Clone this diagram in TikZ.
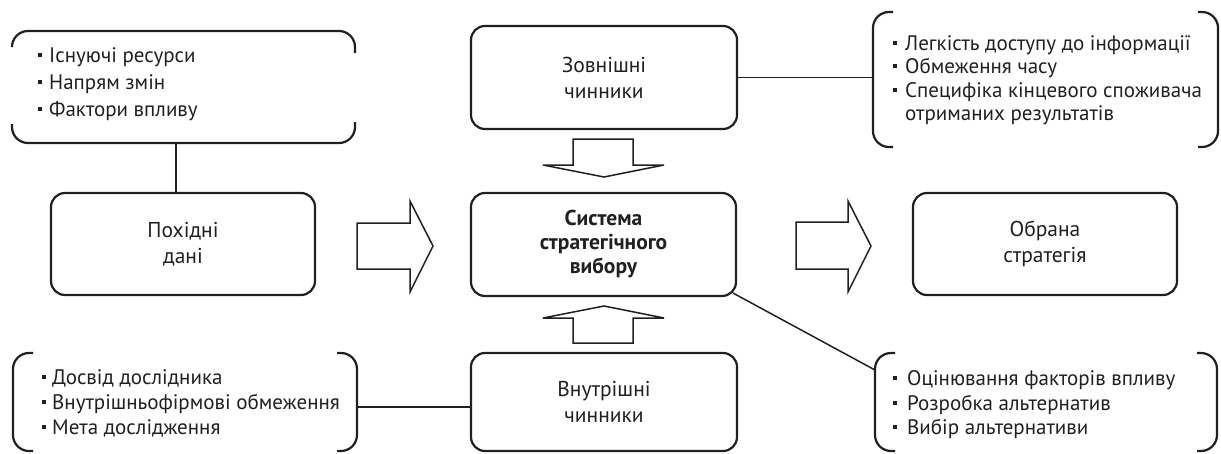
\documentclass[tikz,border=0pt]{standalone}
\usepackage{fontspec}
\setmainfont{PT Sans}
\usetikzlibrary{calc}
\definecolor{ink}{HTML}{231F20}
\newcommand{\blt}[1]{\llap{\rule[5pt]{4pt}{4pt}\hspace{#1}}}
\begin{document}
\begin{tikzpicture}[x=1pt,y=-1pt,
  box/.style={draw=ink, line width=2.2pt, rounded corners=14pt, inner sep=0pt, align=center, text=ink, font=\fontsize{21.5}{26}\selectfont},
  brk/.style={draw=ink, line width=2.2pt, rounded corners=16pt},
  conn/.style={draw=ink, line width=1.5pt},
  fat/.style={draw=ink, line width=1.5pt, line join=miter},
  item/.style={anchor=base west, inner sep=0pt, text=ink, font=\fontsize{21}{24}\selectfont},
]
\useasboundingbox (0,0) rectangle (1221,453);

% main boxes
\node[box, minimum width=264pt, minimum height=102pt] (pd) at (183,244) {Похідні\\дані};
\node[box, minimum width=265pt, minimum height=103pt, font=\bfseries\fontsize{21.5}{24}\selectfont] (sys) at (603.5,244.5) {Система\\стратегічного\\вибору};
\node[box, minimum width=264pt, minimum height=102pt] (obr) at (1045,244) {Обрана\\стратегія};
\node[box, minimum width=266pt, minimum height=103pt] (zov) at (604,77.5) {Зовнішні\\чинники};
\node[box, minimum width=266pt, minimum height=98pt] (vnu) at (604,402) {Внутрішні\\чинники};

% brackets
\draw[brk] (12,46) |- (355,31) -- (355,53);
\draw[brk] (12,124) |- (355,143) -- (355,122);
\draw[brk] (893,12) -| (873,147) -- (893,147);
\draw[brk] (1198,12) -| (1218,147) -- (1198,147);
\draw[brk] (33,353) -| (13,451) -- (33,451);
\draw[brk] (337,353) -| (357,451) -- (337,451);
\draw[brk] (895,353) -| (875,451) -- (895,451);
\draw[brk] (1197,353) -| (1217,451) -- (1197,451);

\coordinate (tlb) at (176,143);
\coordinate (trb) at (873,78);
\coordinate (blb) at (357,407);
\coordinate (brb) at (875,370);

% list items
\node[item] (a1) at (49,62) {\blt{7pt}Існуючі ресурси};
\node[item] (a2) at (49,89) {\blt{7pt}Напрям змін};
\node[item] (a3) at (49,116) {\blt{7pt}Фактори впливу};

\node[item] (b1) at (905,50) {\blt{8pt}Легкість доступу до інформації};
\node[item] (b2) at (905,73) {\blt{8pt}Обмеження часу};
\node[item] (b3) at (905,97) {\blt{8pt}Специфіка кінцевого споживача};
\node[item] (b4) at (905,120) {отриманих результатів};

\node[item] (c1) at (52,384) {\blt{6pt}Досвід дослідника};
\node[item] (c2) at (52,409) {\blt{6pt}Внутрішньофірмові обмеження};
\node[item] (c3) at (52,434) {\blt{6pt}Мета дослідження};

\node[item] (d1) at (907,385) {\blt{10pt}Оцінювання факторів впливу};
\node[item] (d2) at (907,410) {\blt{10pt}Розробка альтернатив};
\node[item] (d3) at (907,434) {\blt{10pt}Вибір альтернативи};

% connectors
\draw[conn] (tlb) -- (tlb |- pd.north);
\draw[conn] (zov.east) -- (zov.east -| trb);
\draw[conn] (blb -| vnu.west) -- (blb);
\draw[conn] ($(sys.south east)+(-4,-4)$) -- (brb);

% block arrows
\draw[fat] (357,223) -- (410,223) -- (410,201) -- (433,246) -- (410,292) -- (410,269) -- (357,269) -- cycle;
\draw[fat] (796,222) -- (848,222) -- (848,201) -- (871,246) -- (848,292) -- (848,269) -- (796,269) -- cycle;
\draw[fat] (573,139) -- (633,139) -- (633,165) -- (664,165) -- (604,177) -- (543,165) -- (573,165) -- cycle;
\draw[fat] (573,343) -- (633,343) -- (633,318) -- (664,318) -- (604,306) -- (543,318) -- (573,318) -- cycle;
\end{tikzpicture}
\end{document}
